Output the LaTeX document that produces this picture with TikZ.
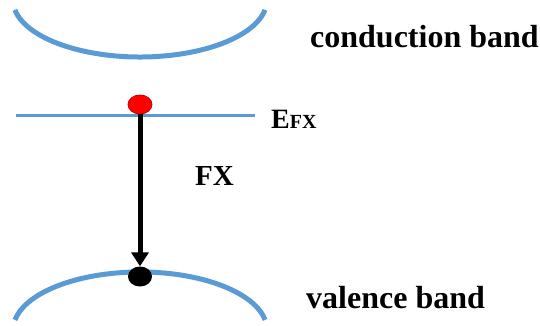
\documentclass[tikz,border=0pt]{standalone}
\usepackage{fontspec}
\setmainfont{Liberation Serif}
\usetikzlibrary{positioning,arrows.meta,shapes.geometric}
\definecolor{bandblue}{HTML}{5B9BD5}
\definecolor{dotred}{HTML}{FF0000}
\definecolor{dotedge}{HTML}{C00000}

\begin{document}
\begin{tikzpicture}[x=1pt, y=1pt,
		band/.style={draw=bandblue, line width=5pt},
		fxline/.style={draw=bandblue, line width=2.2pt},
		arr/.style={-{Triangle[length=14pt,width=17pt]}, line width=5pt},
		dot/.style={ellipse, inner sep=0pt, minimum width=24pt, minimum height=20pt},
		bandlabel/.style={anchor=base west, inner sep=0pt, font=\fontsize{32}{36}\selectfont\bfseries},
	]
	\useasboundingbox (0,0) rectangle (540,325);

	% bands
	\draw[band] (14.9,315.1) arc[start angle=190, end angle=350, x radius=127pt, y radius=57pt];
	\draw[band] (265.1,5.1) arc[start angle=10, end angle=170, x radius=127pt, y radius=58pt];

	% free exciton level
	\draw[fxline] (16,209.5) -- (255,209.5);

	\node[dot, fill=dotred, draw=dotedge, line width=0.8pt, minimum height=19pt] (exciton) at (140,220.5) {};
	\node[dot, fill=black] (hole) at (140,48.5) {};
	\draw[arr] (exciton.south) -- (hole.north);

	% labels
	\node[bandlabel] (cb) at (310,278) {conduction band};
	\node[bandlabel] (vb) at (306,17) {valence band};
	\node[bandlabel, font=\fontsize{28}{30}\selectfont\bfseries] (efx) at (271,197) {E{\fontsize{20}{20}\selectfont FX}};
	\node[bandlabel, font=\fontsize{29}{30}\selectfont\bfseries] (fx) at (195,140) {FX};
\end{tikzpicture}
\end{document}
